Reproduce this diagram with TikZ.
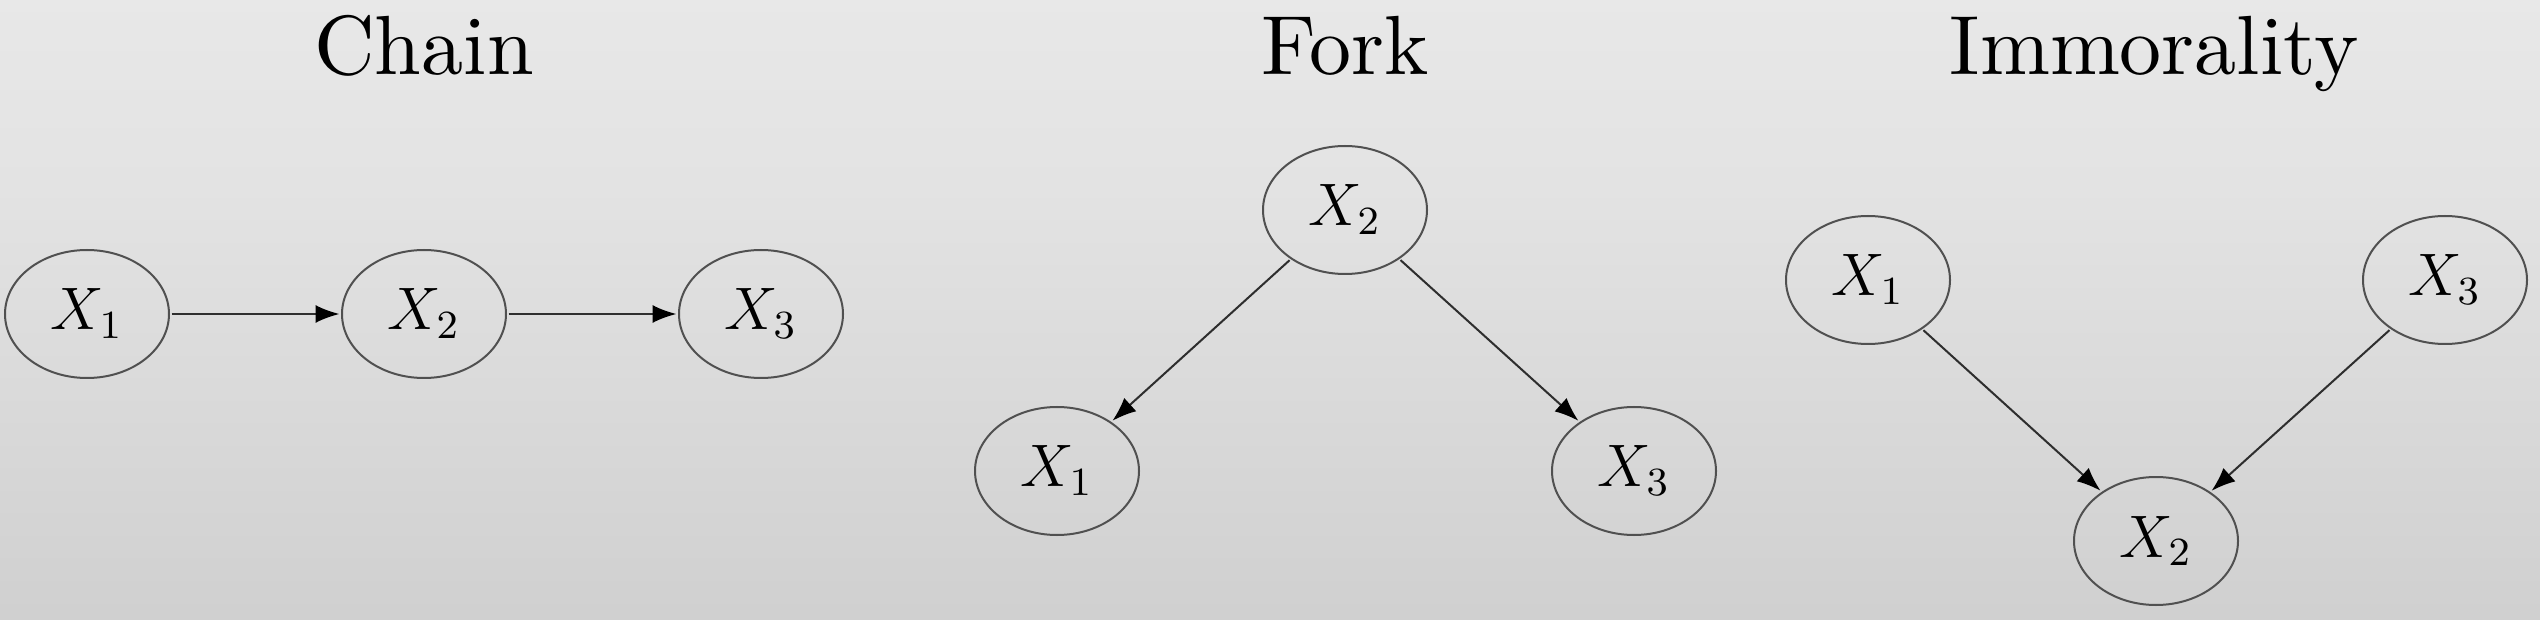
\documentclass[tikz,border=0pt]{standalone}
\usepackage{fontspec}
\setmainfont{Latin Modern Roman}
\newfontfamily\ttlfont{lmroman10-regular.otf}
\usetikzlibrary{shapes.geometric,arrows.meta}
\definecolor{bgtop}{HTML}{EBEBEB}
\definecolor{bgmid}{HTML}{E3E3E3}
\definecolor{bgbot}{HTML}{C2C2C2}
\definecolor{edgecol}{HTML}{2E2E2E}
\definecolor{rimcol}{HTML}{505050}
\pgfdeclareverticalshading{bgshade}{100bp}{color(0bp)=(bgbot); color(60bp)=(bgmid); color(85bp)=(bgtop); color(100bp)=(bgtop)}
\tikzset{
  var/.style={ellipse, draw=rimcol, line width=1pt, scale=2.5, minimum width=32.8pt, minimum height=25.6pt, inner sep=0pt,
    font=\fontsize{12}{14}\selectfont},
  ttl/.style={anchor=base, inner sep=0pt, font=\ttlfont\fontsize{42}{50}\selectfont},
  edge/.style={draw=edgecol, line width=1pt, -{Latex[length=12pt,width=9pt,color=black]}}
}
\begin{document}
\begin{tikzpicture}[x=0.5pt,y=-0.5pt]
\shade[shading=bgshade] (0,0) rectangle (2540,620);
\useasboundingbox (0,0) rectangle (2540,620);
% titles
\node[ttl] (tchain) at (424,75) {Chain};
\node[ttl] (tfork) at (1345,75) {Fork};
\node[ttl] (timm) at (2154,75) {Immorality};
% chain
\node[var] (c1) at (87,314) {$X_1$};
\node[var] (c2) at (424,314) {$X_2$};
\node[var] (c3) at (761,314) {$X_3$};
\draw[edge] (c1) -- (c2);
\draw[edge] (c2) -- (c3);
% fork
\node[var] (f2) at (1345,210) {$X_2$};
\node[var] (f1) at (1057,471) {$X_1$};
\node[var] (f3) at (1634,471) {$X_3$};
\draw[edge] (f2) -- (f1);
\draw[edge] (f2) -- (f3);
% immorality
\node[var] (i1) at (1868,280) {$X_1$};
\node[var] (i3) at (2445,280) {$X_3$};
\node[var] (i2) at (2156,541) {$X_2$};
\draw[edge] (i1) -- (i2);
\draw[edge] (i3) -- (i2);
\end{tikzpicture}
\end{document}
